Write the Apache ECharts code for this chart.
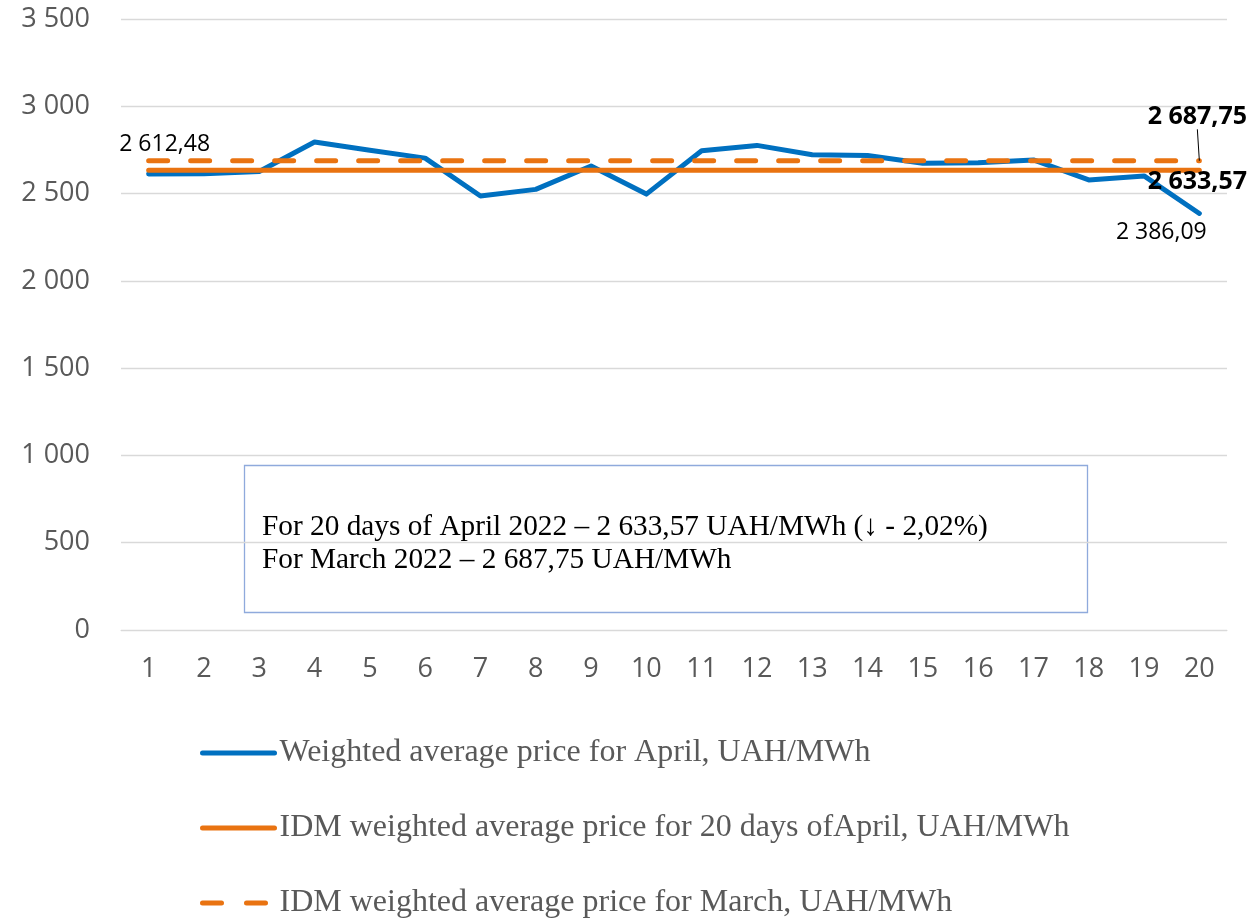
<!DOCTYPE html>
<html>
<head>
<meta charset="utf-8">
<script src="https://cdn.jsdelivr.net/npm/echarts@6/dist/echarts.min.js"></script>
<style>
  html, body { margin: 0; padding: 0; background: #fff; }
  #main { width: 1252px; height: 918px; }
</style>
</head>
<body>
<div id="main"></div>
<script>
// days of April
var days = ['1', '2', '3', '4', '5', '6', '7', '8', '9', '10', '11', '12', '13', '14', '15', '16', '17', '18', '19', '20'];
// daily weighted average price, UAH/MWh
var aprilDaily = [2612.48, 2614, 2626, 2795, 2748, 2703, 2486, 2524, 2658, 2497, 2745, 2776, 2722, 2718, 2674, 2676, 2693, 2578, 2601, 2386.09];
// IDM average for 20 days of April
var aprilAvg = [2633.57, 2633.57, 2633.57, 2633.57, 2633.57, 2633.57, 2633.57, 2633.57, 2633.57, 2633.57, 2633.57, 2633.57, 2633.57, 2633.57, 2633.57, 2633.57, 2633.57, 2633.57, 2633.57, 2633.57];
// IDM average for March
var marchAvg = [2687.75, 2687.75, 2687.75, 2687.75, 2687.75, 2687.75, 2687.75, 2687.75, 2687.75, 2687.75, 2687.75, 2687.75, 2687.75, 2687.75, 2687.75, 2687.75, 2687.75, 2687.75, 2687.75, 2687.75];
var yTicks = { min: 0, max: 3500, interval: 500 };
var names = [
  'Weighted average price for April, UAH/MWh',
  'IDM weighted average price for 20 days ofApril, UAH/MWh',
  'IDM weighted average price for March, UAH/MWh'
];
var boxLines = [
  'For 20 days of April 2022 \u2013 2 633,57 UAH/MWh (\u2193 - 2,02%)',
  'For March 2022 \u2013 2 687,75 UAH/MWh'
];

var blue = '#0070C0';
var orange = '#E97311';

function thousands(s) {
  return s.replace(/\B(?=(\d{3})+(?!\d))/g, ' ');
}
function fmtValue(v) {
  var parts = v.toFixed(2).split('.');
  return thousands(parts[0]) + ',' + parts[1];
}

// put labels only on chosen points
function withLabels(values, labels) {
  return values.map(function(v, i) {
    if (labels[i]) {
      return { value: v, label: Object.assign({ show: true }, labels[i]) };
    }
    return v;
  });
}

var myChart = echarts.init(document.getElementById('main'));
myChart.setOption({
  animation: false,
  grid: { left: 121, right: 25, top: 19, bottom: 288 },
  legend: {
    orient: 'vertical',
    left: 200,
    top: 737,
    height: 260,
    padding: 0,
    itemGap: 43,
    itemWidth: 72,
    itemHeight: 14,
    itemStyle: { opacity: 0 },
    lineStyle: { width: 5, cap: 'round' },
    textStyle: { fontFamily: 'Liberation Serif', fontSize: 32, color: '#595959' },
    data: [
      names[0],
      names[1],
      { name: names[2], lineStyle: { width: 5, type: [19, 25], cap: 'round' } }
    ]
  },
  xAxis: {
    type: 'category',
    data: days,
    axisLine: { lineStyle: { color: '#D9D9D9', width: 1 } },
    axisTick: { show: false },
    axisLabel: { margin: 26, fontFamily: 'Open Sans', fontSize: 27, color: '#595959' }
  },
  yAxis: {
    type: 'value',
    min: yTicks.min,
    max: yTicks.max,
    interval: yTicks.interval,
    axisLine: { show: false },
    axisTick: { show: false },
    splitLine: { lineStyle: { color: '#D9D9D9', width: 1.3 } },
    axisLabel: {
      margin: 31,
      fontFamily: 'Open Sans',
      fontSize: 27,
      color: '#595959',
      formatter: function(v) { return thousands(String(v)); }
    }
  },
  graphic: [{
    type: 'rect',
    left: 242,
    top: 463,
    shape: { width: 843, height: 147 },
    style: { fill: 'none', stroke: '#8FAADC', lineWidth: 1.3 }
  }, {
    type: 'text',
    left: 262,
    top: 511,
    style: {
      text: boxLines.join('\n'),
      font: '29.3px "Liberation Serif"',
      lineHeight: 33,
      fill: '#000'
    }
  }],
  series: [{
    name: names[0],
    type: 'line',
    data: withLabels(aprilDaily, {
      0: { position: 'inside', offset: [16, -29] },
      19: { position: 'inside', offset: [-38, 19] }
    }),
    symbol: 'circle',
    symbolSize: 0.1,
    showSymbol: true,
    lineStyle: { color: blue, width: 5, cap: 'round', join: 'round' },
    itemStyle: { color: blue },
    label: {
      show: false,
      fontFamily: 'Open Sans',
      fontSize: 23,
      color: '#000',
      formatter: function(p) { return fmtValue(p.value); }
    }
  }, {
    name: names[1],
    type: 'line',
    data: withLabels(aprilAvg, {
      19: { position: 'inside', offset: [-2, 12] }
    }),
    symbol: 'circle',
    symbolSize: 0.1,
    showSymbol: true,
    lineStyle: { color: orange, width: 5, cap: 'round' },
    itemStyle: { color: orange },
    label: {
      show: false,
      fontFamily: 'Open Sans',
      fontWeight: 'bold',
      fontSize: 25,
      color: '#000',
      formatter: function(p) { return fmtValue(p.value); }
    }
  }, {
    name: names[2],
    type: 'line',
    data: withLabels(marchAvg, {
      19: { position: 'inside' }
    }),
    symbol: 'circle',
    symbolSize: 0.1,
    showSymbol: true,
    lineStyle: { color: orange, width: 5, type: [19, 23], cap: 'round' },
    itemStyle: { color: orange },
    label: {
      show: false,
      fontFamily: 'Open Sans',
      fontWeight: 'bold',
      fontSize: 25,
      color: '#000',
      formatter: function(p) { return fmtValue(p.value); }
    },
    labelLayout: { dx: -2, dy: -44 },
    labelLine: { show: true, lineStyle: { color: '#000', width: 1 } }
  }]
});
</script>
</body>
</html>
